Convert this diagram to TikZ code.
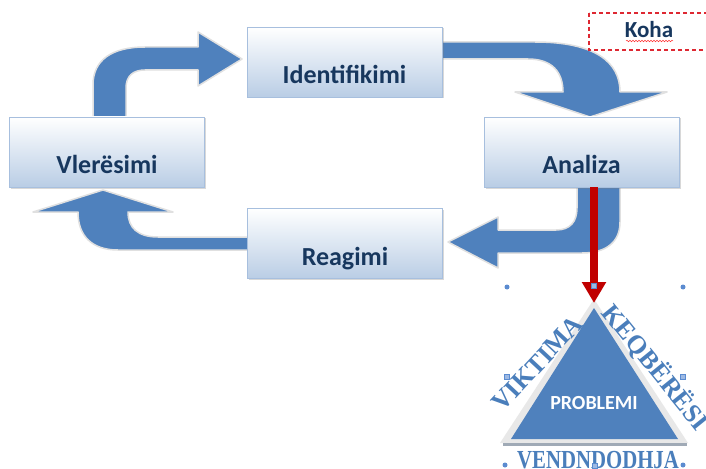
\documentclass[tikz,border=0pt]{standalone}
\usepackage{fontspec}
\setmainfont{Carlito}
\newfontfamily\wafont{Liberation Serif}
\usetikzlibrary{shadows,decorations.pathmorphing,arrows.meta}
\definecolor{arrowblue}{RGB}{79,129,189}
\definecolor{boxbottom}{RGB}{185,205,229}
\definecolor{boxedge}{RGB}{167,191,222}
\definecolor{labelblue}{RGB}{23,55,94}
\definecolor{darkred}{RGB}{192,0,0}
\definecolor{dashred}{RGB}{222,40,50}
\definecolor{handleblue}{RGB}{91,139,208}
\definecolor{wablue}{RGB}{74,126,187}
\definecolor{basegray}{RGB}{160,170,182}
\begin{document}
\begin{tikzpicture}[x=1pt,y=-1pt,
  cyclebox/.style={rectangle, draw=boxedge, line width=0.6pt, top color=white,
    bottom color=boxbottom, minimum width=195pt, minimum height=70pt, inner sep=0pt,
    font=\fontsize{26}{30}\selectfont\bfseries, text=labelblue,
    text height=43pt, text depth=0pt,
    drop shadow={shadow xshift=1.5pt, shadow yshift=-1.5pt, opacity=0.3}},
  bigarrow/.style={fill=arrowblue, draw=black!12, line width=1.5pt, line join=round},
  wastyle/.style={font=\wafont\bfseries\fontsize{26}{30}\selectfont, text=wablue, inner sep=0pt,
    text height=18pt, text depth=0pt},
  handledot/.style={circle, fill=handleblue, inner sep=0pt, minimum size=5pt},
  handlesq/.style={rectangle, fill=handleblue!60, draw=handleblue, line width=0.4pt,
    inner sep=0pt, minimum size=5pt}]
\useasboundingbox (0,0) rectangle (706,468);
\fill[white] (0,0) rectangle (706,468);

% curved block arrows of the cycle
\path[bigarrow] (93,119) -- (93,85) .. controls (93,60) and (112,47) .. (145,47)
  -- (198,47) -- (198,32) -- (242,59) -- (198,86) -- (198,70) -- (145,70)
  .. controls (133,70) and (126,76) .. (126,88) -- (126,119) -- cycle;
\path[bigarrow] (440,42) -- (535,42) .. controls (595,42) and (620,62) .. (620,92)
  -- (667,92) -- (590,117) -- (515,92) -- (563,92)
  .. controls (563,72) and (552,59) .. (528,59) -- (440,59) -- cycle;
\path[bigarrow] (577,185) -- (620,185) -- (620,222) .. controls (620,243) and (605,253) .. (582,253)
  -- (498,253) -- (498,268) -- (448,242) -- (498,217) -- (498,230) -- (556,230)
  .. controls (570,230) and (577,222) .. (577,208) -- cycle;
\path[bigarrow] (249,237) -- (249,250) -- (118,250) .. controls (92,250) and (78,236) .. (78,212)
  -- (33,212) -- (103,190) -- (173,212) -- (128,212)
  .. controls (128,228) and (138,237) .. (158,237) -- cycle;

% boxes
\node[cyclebox] (ident) at (344.5,62) {Identifikimi};
\node[cyclebox] (vler) at (107,152) {Vlerësimi};
\node[cyclebox] (anal) at (581.5,152) {Analiza};
\node[cyclebox] (reag) at (345,243.5) {Reagimi};

% Koha
\draw[dashred, line width=1.3pt, dash pattern=on 4pt off 3pt] (589,13) rectangle (720,50);
\node[font=\fontsize{23}{26}\selectfont\bfseries, text=labelblue, inner sep=0pt] (koha) at (649,30) {Koha};
\draw[red!80, line width=0.5pt, decorate, decoration={snake, amplitude=0.8pt, segment length=3pt}]
  (626,41) -- (673,41);

% triangle
\coordinate (apex) at (594,303);
\fill[black!9] (594,299) -- (688,443) -- (500,443) -- cycle;
\fill[arrowblue] (594,308) -- (678,439) -- (511,439) -- cycle;
\draw[basegray, line width=2.5pt] (503,444.5) -- (687,444.5);
\node[font=\fontsize{20}{24}\selectfont\bfseries, text=white, inner sep=0pt] (problemi) at (594,403) {PROBLEMI};

% red arrow
\draw[darkred, line width=8pt, -{Triangle[width=23pt,length=21pt]}] (anal.south -| apex) -- (apex);

% word art
\node[wastyle, rotate=47] (viktima) at (537,363) {VIKTIMA};
\node[wastyle, rotate=-51] (keqberesi) at (656,367) {KEQBËRËSI};
\node[wastyle, xscale=0.8] (vend) at (598,459) {VENDNDODHJA};

% selection handles
\node[handledot] (h1) at (507,287) {};
\node[handledot] (h2) at (683,287) {};
\node[handledot] (h3) at (505,465) {};
\node[handledot] (h4) at (683,465) {};
\node[handlesq] (h5) at (594,286) {};
\node[handlesq] (h6) at (507,377) {};
\node[handlesq] (h7) at (683,377) {};
\node[handlesq] (h8) at (595,466) {};
\end{tikzpicture}
\end{document}
